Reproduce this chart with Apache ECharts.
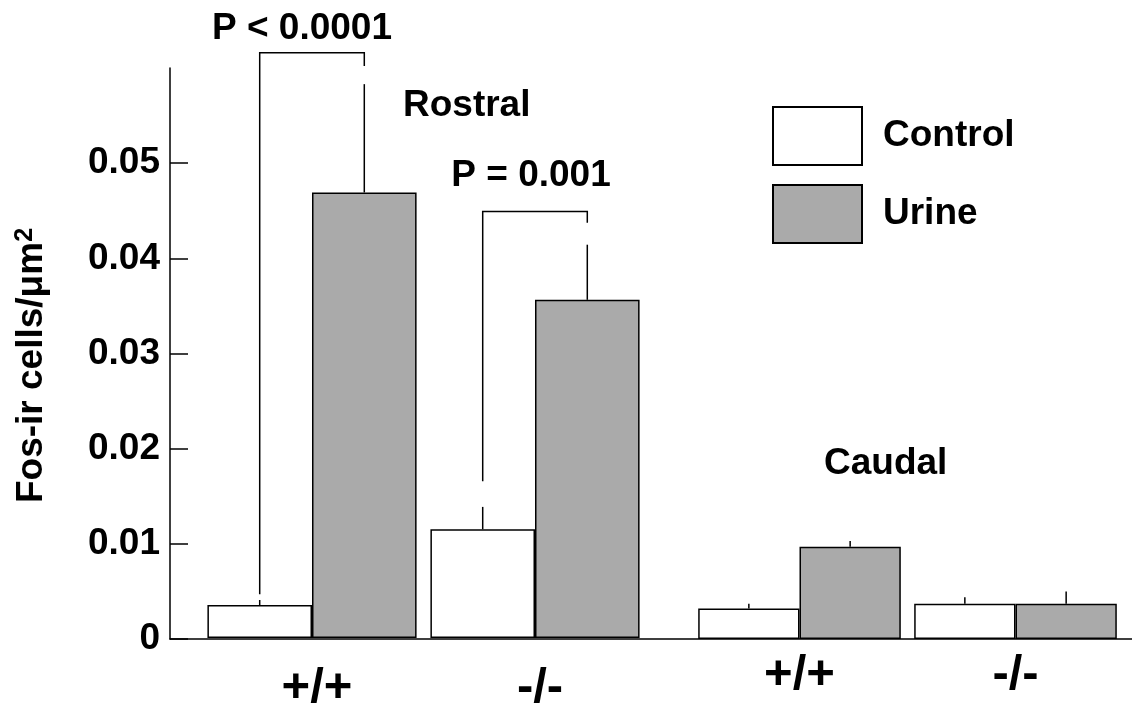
<!DOCTYPE html>
<html>
<head>
<meta charset="utf-8">
<script src="https://cdn.jsdelivr.net/npm/echarts@6/dist/echarts.min.js"></script>
<style>
    html, body { margin: 0; padding: 0; background: #fff; }
    #chart { width: 1132px; height: 713px; }
</style>
</head>
<body>
<div id="chart"></div>
<script>
    // genotype groups, same in both regions
    var genotypes = ['+/+', '-/-'];
    var seriesNames = ['Control', 'Urine'];

    // rostral region
    var rostralControl = [0.00347, 0.01145];
    var rostralUrine = [0.0469, 0.0356];
    var rostralControlErr = [0.0040, 0.0138];
    var rostralUrineErr = [0.0583, 0.0414];

    // caudal region
    var caudalControl = [0.0032, 0.0037];
    var caudalUrine = [0.0097, 0.0037];
    var caudalControlErr = [0.0037, 0.0044];
    var caudalUrineErr = [0.0103, 0.0050];

    // significance brackets (rostral): genotype index, left leg bottom, top, right leg bottom
    var bracketGroup = [0, 1];
    var bracketLeft = [0.0046, 0.0165];
    var bracketTop = [0.0616, 0.0449];
    var bracketRight = [0.0602, 0.0437];
    var bracketText = ['P < 0.0001', 'P = 0.001'];

    var yTicks = [0, 0.01, 0.02, 0.03, 0.04, 0.05];
    var yMax = 0.06;

    var FONT = '"Liberation Sans", Arial, sans-serif';
    var GAP = 0.062;

    function errData(ctrl, ctrlErr, urine, urineErr) {
        var out = [];
        for (var i = 0; i < ctrl.length; i++) {
            out.push([i, 0, ctrl[i], ctrlErr[i]]);
            out.push([i, 1, urine[i], urineErr[i]]);
        }
        return out;
    }

    function renderErr(params, api) {
        var side = api.value(1);
        var base = api.coord([api.value(0), api.value(2)]);
        var top = api.coord([api.value(0), api.value(3)]);
        var band = api.size([1, 0])[0];
        var barW = band * (1 - GAP) / 2;
        var x = base[0] + (side === 0 ? -barW / 2 : barW / 2);
        return {
            type: 'line',
            shape: {x1: x, y1: base[1], x2: x, y2: top[1]},
            style: {stroke: '#000', lineWidth: 1.5}
        };
    }

    function renderBracket(params, api) {
        var cat = api.value(0);
        var band = api.size([1, 0])[0];
        var barW = band * (1 - GAP) / 2;
        var c = api.coord([cat, 0])[0];
        var xl = c - barW / 2, xr = c + barW / 2;
        var yl = api.coord([cat, api.value(1)])[1];
        var yt = api.coord([cat, api.value(2)])[1];
        var yr = api.coord([cat, api.value(3)])[1];
        return {
            type: 'polyline',
            shape: {points: [[xl, yl], [xl, yt], [xr, yt], [xr, yr]]},
            style: {stroke: '#000', lineWidth: 1.5, fill: null}
        };
    }

    var bracketData = bracketGroup.map(function (g, i) {
        return [g, bracketLeft[i], bracketTop[i], bracketRight[i]];
    });

    var barStyle = function (color) {
        return {color: color, borderColor: '#000', borderWidth: 1.5};
    };

    var textStyle = {fontFamily: FONT, fontWeight: 'bold', fontSize: 37, fill: '#000'};

    var option = {
        animation: false,
        backgroundColor: '#fff',
        legend: {
            data: seriesNames,
            orient: 'vertical',
            left: 767,
            top: 101,
            icon: 'rect',
            itemWidth: 89,
            itemHeight: 58,
            itemGap: 18,
            textStyle: {
                fontFamily: FONT,
                fontWeight: 'bold',
                fontSize: 37,
                color: '#000',
                padding: [0, 0, 0, 16]
            }
        },
        grid: [
            {left: 170, right: 0, top: 68, bottom: 74},
            {left: 200.5, width: 446, top: 68, bottom: 74},
            {left: 691.5, width: 432, top: 68, bottom: 74}
        ],
        xAxis: [
            {
                gridIndex: 0, type: 'value', min: 0, max: 1,
                axisLine: {show: true, lineStyle: {color: '#000', width: 1.5}},
                axisTick: {show: false}, axisLabel: {show: false}, splitLine: {show: false}
            },
            {
                gridIndex: 1, type: 'category', data: genotypes,
                axisLine: {show: false}, axisTick: {show: false},
                axisLabel: {fontFamily: FONT, fontWeight: 'bold', fontSize: 49, color: '#000', margin: 26, padding: [0, 0, 0, 10]}
            },
            {
                gridIndex: 2, type: 'category', data: genotypes,
                axisLine: {show: false}, axisTick: {show: false},
                axisLabel: {fontFamily: FONT, fontWeight: 'bold', fontSize: 49, color: '#000', margin: 12, padding: [0, 0, 0, 0]}
            }
        ],
        yAxis: [
            {
                gridIndex: 0, type: 'value', min: 0, max: yMax,
                name: 'Fos-ir cells/μm{sup|2}',
                nameLocation: 'middle',
                nameGap: 120,
                nameTextStyle: {
                    fontFamily: FONT, fontWeight: 'bold', fontSize: 37, color: '#000',
                    padding: [0, 24, 0, 0],
                    rich: {
                        sup: {fontFamily: FONT, fontWeight: 'bold', fontSize: 25, color: '#000', verticalAlign: 'top'}
                    }
                },
                axisLine: {show: true, lineStyle: {color: '#000', width: 1.5}},
                axisTick: {show: true, inside: true, length: 18, customValues: yTicks, lineStyle: {color: '#000', width: 1.5}},
                axisLabel: {
                    customValues: yTicks,
                    margin: 10,
                    fontFamily: FONT, fontWeight: 'bold', fontSize: 37, color: '#000',
                    formatter: function (v) { return v === 0 ? '0' : v.toFixed(2); }
                },
                splitLine: {show: false}
            },
            {gridIndex: 1, type: 'value', min: 0, max: yMax, show: false},
            {gridIndex: 2, type: 'value', min: 0, max: yMax, show: false}
        ],
        graphic: [
            {type: 'text', style: Object.assign({text: 'Rostral', x: 403, y: 106, verticalAlign: 'middle'}, textStyle)},
            {type: 'text', style: Object.assign({text: 'Caudal', x: 824, y: 464, verticalAlign: 'middle'}, textStyle)},
            {type: 'text', style: Object.assign({text: bracketText[0], x: 302, y: 29, align: 'center', verticalAlign: 'middle'}, textStyle)},
            {type: 'text', style: Object.assign({text: bracketText[1], x: 531, y: 176, align: 'center', verticalAlign: 'middle'}, textStyle)}
        ],
        series: [
            {
                name: 'Control', type: 'bar', xAxisIndex: 1, yAxisIndex: 1,
                barGap: '0%', barCategoryGap: (GAP * 100) + '%',
                itemStyle: barStyle('#ffffff'), data: rostralControl
            },
            {
                name: 'Urine', type: 'bar', xAxisIndex: 1, yAxisIndex: 1,
                itemStyle: barStyle('#aaaaaa'), data: rostralUrine
            },
            {
                name: 'Control', type: 'bar', xAxisIndex: 2, yAxisIndex: 2,
                barGap: '0%', barCategoryGap: (GAP * 100) + '%',
                itemStyle: barStyle('#ffffff'), data: caudalControl
            },
            {
                name: 'Urine', type: 'bar', xAxisIndex: 2, yAxisIndex: 2,
                itemStyle: barStyle('#aaaaaa'), data: caudalUrine
            },
            {
                type: 'custom', xAxisIndex: 1, yAxisIndex: 1, z: 3,
                renderItem: renderErr,
                encode: {x: 0, y: [2, 3]},
                data: errData(rostralControl, rostralControlErr, rostralUrine, rostralUrineErr)
            },
            {
                type: 'custom', xAxisIndex: 2, yAxisIndex: 2, z: 3,
                renderItem: renderErr,
                encode: {x: 0, y: [2, 3]},
                data: errData(caudalControl, caudalControlErr, caudalUrine, caudalUrineErr)
            },
            {
                type: 'custom', xAxisIndex: 1, yAxisIndex: 1, z: 3, clip: false,
                renderItem: renderBracket,
                encode: {x: 0, y: [1, 2, 3]},
                data: bracketData
            }
        ]
    };

    var chart = echarts.init(document.getElementById('chart'));
    chart.setOption(option);
</script>
</body>
</html>
